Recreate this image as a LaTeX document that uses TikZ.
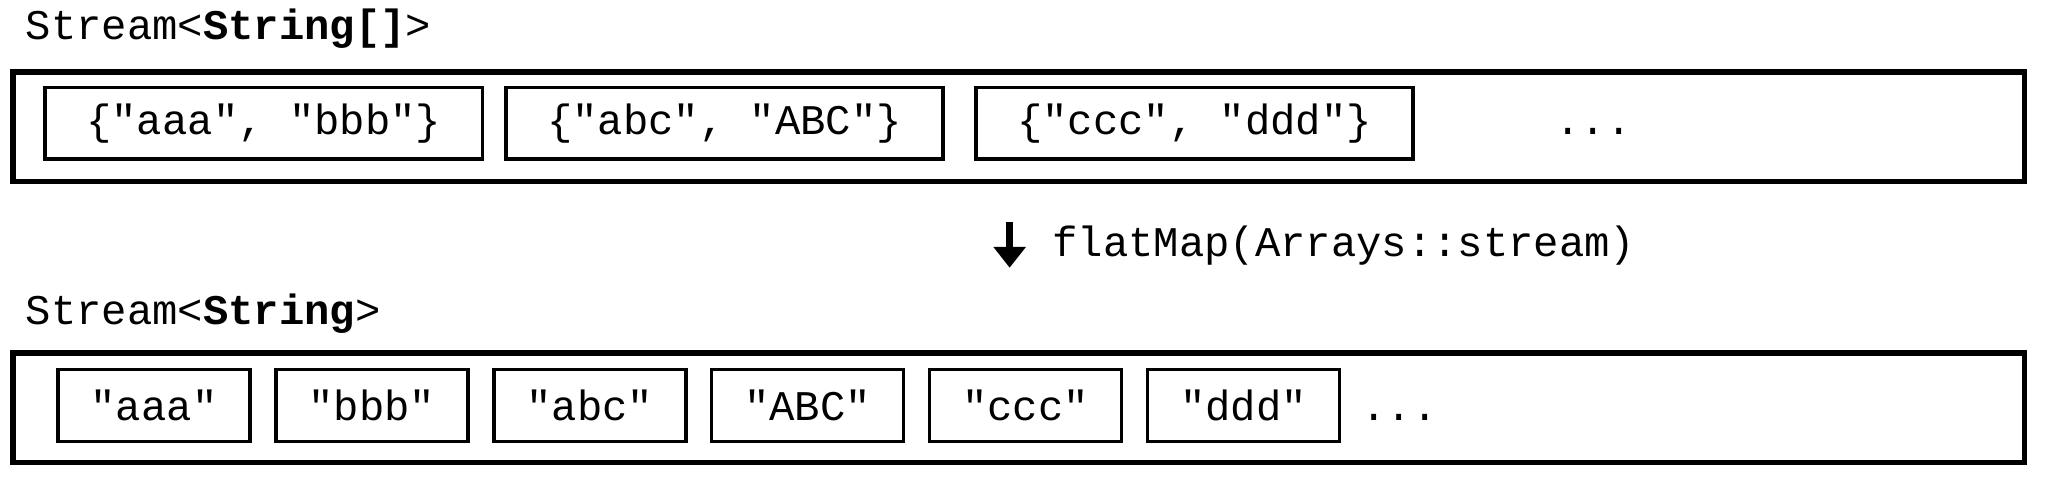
\documentclass[tikz,border=0pt]{standalone}
\usepackage{fontspec}
\setmonofont{Liberation Mono}
\usetikzlibrary{positioning,arrows.meta}
\tikzset{
  proud/.style={draw,line width=1.2pt,minimum width=15.4cm,minimum height=0.84cm,anchor=north west,inner sep=0pt},
  pole/.style={draw,line width=0.8pt,minimum width=3.35cm,minimum height=0.55cm,inner sep=0pt},
  prvek/.style={draw,line width=0.8pt,minimum width=1.47cm,minimum height=0.55cm,inner sep=0pt},
  popis/.style={anchor=west,inner sep=0pt},
  sip/.style={-{Triangle[length=1.6mm,width=2.4mm]},line width=1.6pt},
}
\begin{document}
\begin{tikzpicture}[font=\ttfamily\fontsize{9.2}{11}\selectfont,node distance=2mm]
  \useasboundingbox (0,0) rectangle (15.68,-3.68);
  \node[popis] (typ1) at (0.19,-0.22) {Stream<\textbf{String[]}>};
  \node[proud] (s1) at (0.08,-0.53) {};
  \node[pole,anchor=west] (p1) at (0.33,-0.945) {\{"aaa", "bbb"\}};
  \node[pole,right=0.15cm of p1] (p2) {\{"abc", "ABC"\}};
  \node[pole,right=0.22cm of p2] (p3) {\{"ccc", "ddd"\}};
  \node[base right=0.95cm of p3] (t1) {...};
  \coordinate (a1) at (7.73,-1.70); \coordinate (a2) at (7.73,-2.05);
  \draw[sip] (a1)--(a2);
  \node[popis] (op) at (8.05,-1.88) {flatMap(Arrays::stream)};
  \node[popis] (typ2) at (0.19,-2.40) {Stream<\textbf{String}>};
  \node[proud] (s2) at (0.08,-2.68) {};
  \node[prvek,anchor=west] (e1) at (0.43,-3.105) {"aaa"};
  \node[prvek,right=0.17cm of e1] (e2) {"bbb"};
  \node[prvek,right=0.17cm of e2] (e3) {"abc"};
  \node[prvek,right=0.17cm of e3] (e4) {"ABC"};
  \node[prvek,right=0.17cm of e4] (e5) {"ccc"};
  \node[prvek,right=0.17cm of e5] (e6) {"ddd"};
  \node[base right=0.03cm of e6] (t2) {...};
\end{tikzpicture}
\end{document}
